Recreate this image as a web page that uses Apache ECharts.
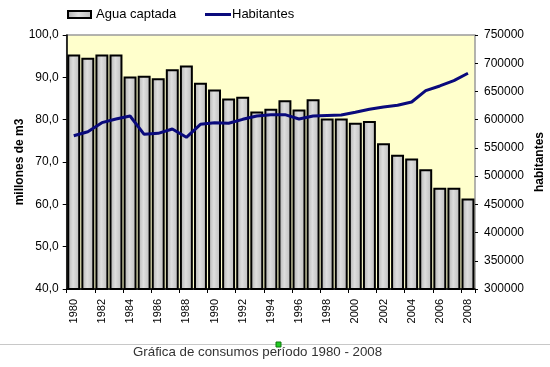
<!DOCTYPE html>
<html>
<head>
<meta charset="utf-8">
<script src="https://cdn.jsdelivr.net/npm/echarts@6/dist/echarts.min.js"></script>
<style>
html,body{margin:0;padding:0;background:#fff;}
#c{width:550px;height:367px;}
</style>
</head>
<body>
<div id="c"></div>
<script>
const years = ['1980','1981','1982','1983','1984','1985','1986','1987','1988','1989','1990','1991','1992','1993','1994','1995','1996','1997','1998','1999','2000','2001','2002','2003','2004','2005','2006','2007','2008'];
const aguaCaptada = [95.4,94.6,95.4,95.4,90.2,90.4,89.8,91.9,92.8,88.7,87.1,85.0,85.4,81.9,82.6,84.6,82.4,84.8,80.3,80.3,79.3,79.7,74.4,71.7,70.8,68.3,63.9,63.9,61.4];
const habitantes = [571600,578700,594700,601200,606500,574000,575800,583500,568700,591800,594700,593600,600600,606500,608900,608900,601200,606500,607500,608300,613000,618400,622500,625500,631300,651400,659700,669100,682200];
const leftTicks = [40,50,60,70,80,90,100];
const rightTicks = [300000,350000,400000,450000,500000,550000,600000,650000,700000,750000];
const titleText = 'Gráfica de consumos período 1980 - 2008';

const FONT = 'Liberation Sans, Arial, sans-serif';
const chart = echarts.init(document.getElementById('c'), null, {renderer:'canvas'});

const barFill = new echarts.graphic.LinearGradient(0,0,1,0,[
  {offset:0,color:'#adadad'},
  {offset:0.45,color:'#dedede'},
  {offset:1,color:'#bababa'}
]);

chart.setOption({
  animation:false,
  textStyle:{fontFamily:FONT},
  legend:[{
    left:67, top:8, padding:0,
    itemWidth:23, itemHeight:7,
    textStyle:{fontFamily:FONT,fontSize:13,color:'#000'},
    data:[{name:'Agua captada', icon:'rect'}]
  },{
    left:205, top:8, padding:0,
    itemWidth:26, itemHeight:3,
    textStyle:{fontFamily:FONT,fontSize:13,color:'#000',padding:[0,0,0,-4]},
    data:[{name:'Habitantes', icon:'rect'}]
  }],
  grid:{
    left:66.7, right:75, top:35, bottom:78,
    outerBoundsMode:'none',
    show:true, backgroundColor:'#FFFFCC', borderColor:'#9a9a9a', borderWidth:1.5
  },
  xAxis:{
    type:'category', data:years,
    axisLine:{lineStyle:{color:'#000',width:1.5}},
    axisTick:{show:true,interval:1,length:4,lineStyle:{color:'#000'}},
    axisLabel:{rotate:90,interval:1,fontSize:11,color:'#000',fontFamily:FONT,margin:10}
  },
  yAxis:[{
    type:'value', min:40, max:100, interval:10,
    name:'millones de m3', nameLocation:'middle', nameGap:41, nameRotate:90,
    nameMoveOverlap:false,
    nameTextStyle:{fontFamily:FONT,fontSize:12,fontWeight:'bold',color:'#000'},
    axisLine:{show:true,lineStyle:{color:'#000',width:1.5}},
    axisTick:{show:true,length:4,lineStyle:{color:'#000'}},
    splitLine:{show:false},
    axisLabel:{fontSize:12,color:'#000',fontFamily:FONT,margin:8,
      formatter:v=>v.toFixed(1).replace('.',',')}
  },{
    type:'value', min:300000, max:750000, interval:50000,
    name:'habitantes', nameLocation:'middle', nameGap:59, nameRotate:90,
    nameMoveOverlap:false,
    nameTextStyle:{fontFamily:FONT,fontSize:12,fontWeight:'bold',color:'#000'},
    axisLine:{show:false},
    axisTick:{show:true,length:3,lineStyle:{color:'#000'}},
    splitLine:{show:false},
    axisLabel:{fontSize:12,color:'#000',fontFamily:FONT,margin:9,
      formatter:v=>String(v)}
  }],
  series:[{
    name:'Agua captada', type:'bar', data:aguaCaptada, yAxisIndex:0,
    barCategoryGap:'8%',
    itemStyle:{color:barFill,borderColor:'#000',borderWidth:2}
  },{
    name:'Habitantes', type:'line', data:habitantes, yAxisIndex:1,
    symbol:'none', smooth:false,
    lineStyle:{color:'#0a0a7c',width:3},
    itemStyle:{color:'#0a0a7c'}
  }],
  graphic:[
    {type:'line', shape:{x1:0,y1:344.5,x2:550,y2:344.5}, style:{stroke:'#c8c8c8',lineWidth:1}},
    {type:'rect', shape:{x:276,y:342,width:5,height:5}, style:{fill:'#22cc22',stroke:'#117711',lineWidth:1}},
    {type:'text', left:133, top:346, style:{text:titleText,font:'13.3px Liberation Sans, Arial, sans-serif',fill:'#333'}}
  ]
});
</script>
</body>
</html>
